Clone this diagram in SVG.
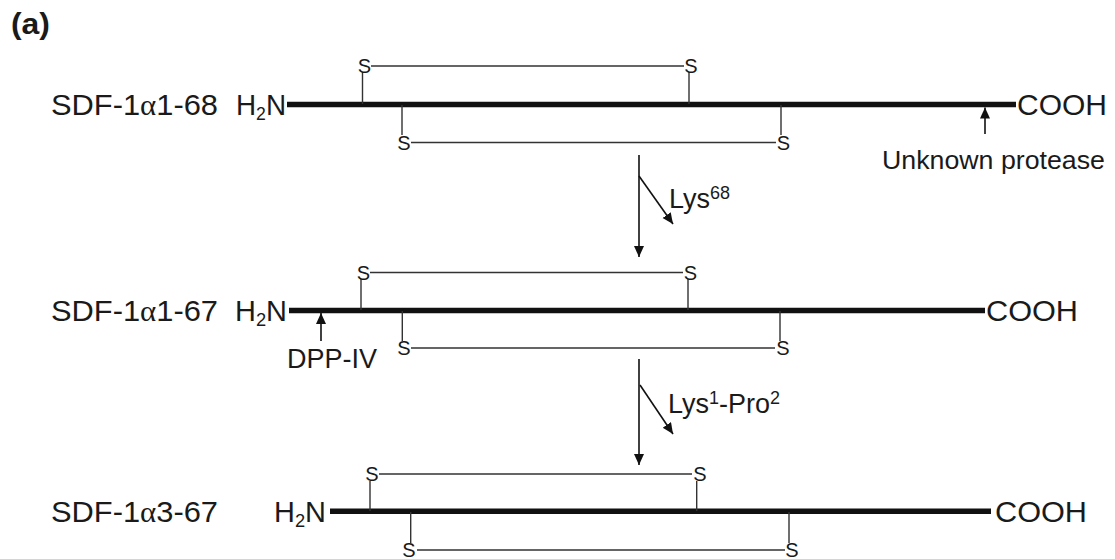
<svg xmlns="http://www.w3.org/2000/svg" width="1115" height="559" viewBox="0 0 1115 559">
<style>
text{font-family:"Liberation Sans",Arial,sans-serif;fill:#1a1a1a}
.lbl{font-size:30px}
.s{font-size:20px;text-anchor:middle}
.bb{stroke:#111;stroke-width:5.5;fill:none}
.thin{stroke:#333;stroke-width:1.4;fill:none}
.arr{stroke:#111;stroke-width:1.6;fill:none;marker-end:url(#ah)}
.greek{font-family:"Liberation Serif","Times New Roman",serif}
.sub{font-size:19px}
.sup{font-size:18px}
</style>
<defs>
<marker id="ah" markerUnits="userSpaceOnUse" markerWidth="12" markerHeight="12" refX="11" refY="5" orient="auto">
<path d="M0,0 L11,5 L0,10 Z" fill="#111"/>
</marker>
</defs>
<rect width="1115" height="559" fill="#fff"/>
<text x="11" y="34" style="font-size:30px;font-weight:bold" textLength="39" lengthAdjust="spacingAndGlyphs">(a)</text>

<g id="row1">
<text class="lbl" x="51" y="115" textLength="167" lengthAdjust="spacingAndGlyphs">SDF-1<tspan class="greek">α</tspan>1-68</text>
<text class="lbl" x="236" y="115" textLength="50" lengthAdjust="spacingAndGlyphs">H<tspan class="sub" dy="5">2</tspan><tspan dy="-5">N</tspan></text>
<line class="bb" x1="287" y1="104.5" x2="1016" y2="104.5"/>
<text class="lbl" x="1017" y="115" textLength="90" lengthAdjust="spacingAndGlyphs">COOH</text>
<path class="thin" d="M362.5,104 V72 M371,66 H684 M689,104 V72 M402,105 V135 M411,142.5 H776 M781,105 V135"/>
<text class="s" x="364.5" y="73">S</text>
<text class="s" x="691" y="73">S</text>
<text class="s" x="404" y="149.5">S</text>
<text class="s" x="783.5" y="149.5">S</text>
<text x="882" y="169" style="font-size:25px" textLength="223" lengthAdjust="spacingAndGlyphs">Unknown protease</text>
</g>

<g id="row2">
<text class="lbl" x="51" y="321" textLength="167" lengthAdjust="spacingAndGlyphs">SDF-1<tspan class="greek">α</tspan>1-67</text>
<text class="lbl" x="235" y="321" textLength="52" lengthAdjust="spacingAndGlyphs">H<tspan class="sub" dy="5">2</tspan><tspan dy="-5">N</tspan></text>
<line class="bb" x1="289" y1="310.5" x2="985" y2="310.5"/>
<text class="lbl" x="986" y="321" textLength="92" lengthAdjust="spacingAndGlyphs">COOH</text>
<path class="thin" d="M361,310 V279 M370,272.5 H683 M688,310 V279 M402.3,311 V341 M411,348 H775 M780,311 V341"/>
<text class="s" x="363.3" y="279.5">S</text>
<text class="s" x="690.5" y="279.5">S</text>
<text class="s" x="404" y="355">S</text>
<text class="s" x="783" y="355">S</text>
<text x="287" y="368" style="font-size:27px" textLength="90" lengthAdjust="spacingAndGlyphs">DPP-IV</text>
</g>

<g id="row3">
<text class="lbl" x="51" y="522" textLength="167" lengthAdjust="spacingAndGlyphs">SDF-1<tspan class="greek">α</tspan>3-67</text>
<text class="lbl" x="274" y="522" textLength="52" lengthAdjust="spacingAndGlyphs">H<tspan class="sub" dy="5">2</tspan><tspan dy="-5">N</tspan></text>
<line class="bb" x1="330" y1="511.2" x2="991" y2="511.2"/>
<text class="lbl" x="995" y="522" textLength="92" lengthAdjust="spacingAndGlyphs">COOH</text>
<path class="thin" d="M370,511 V481 M379,474 H692 M696.7,511 V481 M410.7,512 V543 M417,550 H785 M789,512 V543"/>
<text class="s" x="372" y="481">S</text>
<text class="s" x="700" y="481">S</text>
<text class="s" x="409" y="557">S</text>
<text class="s" x="792" y="557">S</text>
</g>

<g id="cleavage1">
<text x="669" y="208" style="font-size:27px">Lys<tspan class="sup" dy="-9">68</tspan></text>
</g>
<g id="cleavage2">
<text x="668" y="413" style="font-size:27px">Lys<tspan class="sup" dy="-9">1</tspan><tspan dy="9">-Pro</tspan><tspan class="sup" dy="-9">2</tspan></text>
</g>

<g id="connectors">
<line class="arr" x1="639" y1="155" x2="639" y2="257"/>
<line class="arr" x1="639" y1="176" x2="673" y2="224"/>
<line class="arr" x1="639" y1="359" x2="639" y2="465"/>
<line class="arr" x1="640" y1="385" x2="673" y2="434"/>
<line class="arr" x1="985" y1="134" x2="985" y2="107.5"/>
<line class="arr" x1="321" y1="341" x2="321" y2="313"/>
</g>
</svg>
